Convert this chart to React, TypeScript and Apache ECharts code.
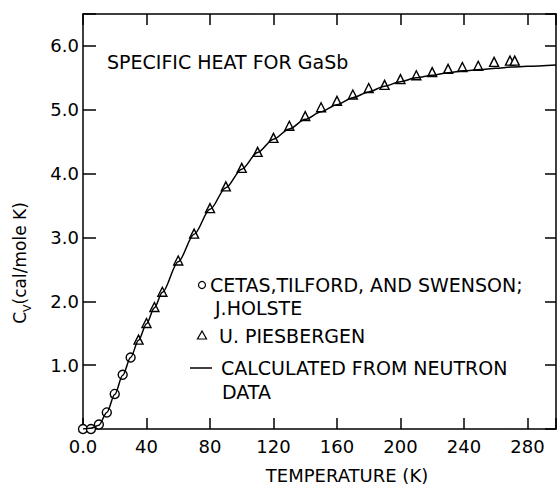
import React, { useEffect, useRef } from "react";
import * as echarts from "echarts";

// Cetas, Tilford and Swenson; J. Holste (circles)
const cetasT = [0, 5, 10, 15, 20, 25, 30];
const cetasCv = [0, 0, 0.07, 0.26, 0.55, 0.85, 1.12];

// U. Piesbergen (triangles)
const piesT = [35, 40, 45, 50, 60, 70, 80, 90, 100, 110, 120, 130, 140, 150, 160, 170, 180, 190, 200, 210, 220, 230, 239, 249, 259, 269, 272];
const piesCv = [1.4, 1.66, 1.91, 2.15, 2.64, 3.06, 3.46, 3.8, 4.09, 4.34, 4.56, 4.75, 4.9, 5.04, 5.14, 5.24, 5.34, 5.39, 5.48, 5.54, 5.59, 5.64, 5.67, 5.69, 5.75, 5.77, 5.77];

// Calculated from neutron data (curve)
const calcT = [0, 5, 10, 15, 20, 25, 30, 35, 40, 45, 50, 60, 70, 80, 90, 100, 110, 120, 130, 140, 150, 160, 170, 180, 190, 200, 210, 220, 230, 240, 250, 260, 270, 280, 298];
const calcCv = [0, 0.01, 0.06, 0.26, 0.54, 0.84, 1.12, 1.39, 1.65, 1.9, 2.14, 2.62, 3.05, 3.44, 3.78, 4.07, 4.33, 4.54, 4.7, 4.85, 4.97, 5.08, 5.19, 5.28, 5.37, 5.44, 5.5, 5.54, 5.58, 5.61, 5.63, 5.65, 5.67, 5.68, 5.7];

const xTicks = [0, 40, 80, 120, 160, 200, 240, 280];
const yTicks = [1, 2, 3, 4, 5, 6];

const chartTitle = "SPECIFIC HEAT FOR GaSb";
const xTitle = "TEMPERATURE (K)";
const legendLines = ["CETAS,TILFORD, AND SWENSON;", "J.HOLSTE", "U. PIESBERGEN", "CALCULATED FROM NEUTRON", "DATA"];

const FONT = "DejaVu Sans";

export default function App() {
  const ref = useRef<HTMLDivElement>(null);
  useEffect(() => {
    if (!ref.current) return;
    const chart = echarts.init(ref.current, undefined, { renderer: "svg" });
    const axisLine = { show: true, onZero: false, lineStyle: { color: "#000", width: 1.5 } };
    const tick = (len: number) => ({
      show: true, inside: true, length: len, lineStyle: { color: "#000", width: 1.5 },
    });
    const xFmt = (v: number) => (xTicks.includes(v) ? (v === 0 ? "0.0" : String(v)) : "");
    const yFmt = (v: number) => (yTicks.includes(v) ? v.toFixed(1) : "");
    chart.setOption({
      animation: false,
      backgroundColor: "#fff",
      grid: { left: 83, top: 14, width: 475, height: 415, containLabel: false },
      xAxis: [
        {
          type: "value", min: 0, max: 298, interval: 40, position: "bottom",
          axisLine, axisTick: tick(11), splitLine: { show: false },
          axisLabel: { formatter: xFmt, fontSize: 18, fontFamily: FONT, color: "#000", margin: 8 },
        },
        {
          type: "value", min: 0, max: 298, interval: 40, position: "top",
          axisLine, axisTick: tick(11), splitLine: { show: false }, axisLabel: { show: false },
        },
      ],
      yAxis: [
        {
          type: "value", min: 0, max: 6.5, interval: 1, position: "left",
          axisLine, axisTick: tick(13), splitLine: { show: false },
          axisLabel: { formatter: yFmt, fontSize: 18, fontFamily: FONT, color: "#000", margin: 4 },
        },
        {
          type: "value", min: 0, max: 6.5, interval: 1, position: "right",
          axisLine, axisTick: tick(11), splitLine: { show: false }, axisLabel: { show: false },
        },
      ],
      series: [
        {
          type: "line", name: "calc", data: calcT.map((t, i) => [t, calcCv[i]]),
          showSymbol: false, smooth: 0.3, smoothMonotone: "x",
          lineStyle: { color: "#000", width: 1.5 }, clip: true,
        },
        {
          type: "scatter", name: "cetas", data: cetasT.map((t, i) => [t, cetasCv[i]]),
          symbol: "circle", symbolSize: 9, clip: false,
          itemStyle: { color: "#fff", borderColor: "#000", borderWidth: 1.4, opacity: 1 },
        },
        {
          type: "scatter", name: "pies", data: piesT.map((t, i) => [t, piesCv[i]]),
          symbol: "triangle", symbolSize: 9, clip: false,
          itemStyle: { color: "#fff", borderColor: "#000", borderWidth: 1.4, opacity: 1 },
        },
      ],
      graphic: [
        { type: "text", left: 107, top: 52, style: { text: chartTitle, font: `19px '${FONT}'`, fill: "#000" } },
        { type: "text", x: 347, y: 475, style: { text: xTitle, font: `18px '${FONT}'`, fill: "#000", align: "center", verticalAlign: "middle" } },
        {
          type: "text", x: 20, y: 263, rotation: Math.PI / 2,
          style: {
            text: "{c|C}{s|V}{c|(cal/mole K)}", align: "center", verticalAlign: "middle", fill: "#000",
            rich: {
              c: { fontSize: 17, fontFamily: FONT, lineHeight: 26, verticalAlign: "middle" },
              s: { fontSize: 11, fontFamily: FONT, lineHeight: 26, verticalAlign: "bottom" },
            },
          },
        },
        { type: "circle", shape: { cx: 202, cy: 285, r: 3.5 }, style: { fill: "#fff", stroke: "#000", lineWidth: 1.2 } },
        { type: "polygon", shape: { points: [[197.5, 339], [206.5, 339], [202, 331]] }, style: { fill: "#fff", stroke: "#000", lineWidth: 1.2 } },
        { type: "line", shape: { x1: 190, y1: 368, x2: 212, y2: 368 }, style: { stroke: "#000", lineWidth: 1.5 } },
        { type: "text", x: 210, y: 285, style: { text: legendLines[0], font: `19px '${FONT}'`, fill: "#000", verticalAlign: "middle" } },
        { type: "text", x: 215, y: 308, style: { text: legendLines[1], font: `19px '${FONT}'`, fill: "#000", verticalAlign: "middle" } },
        { type: "text", x: 219, y: 336, style: { text: legendLines[2], font: `19px '${FONT}'`, fill: "#000", verticalAlign: "middle" } },
        { type: "text", x: 221, y: 368, style: { text: legendLines[3], font: `19px '${FONT}'`, fill: "#000", verticalAlign: "middle" } },
        { type: "text", x: 222, y: 392, style: { text: legendLines[4], font: `19px '${FONT}'`, fill: "#000", verticalAlign: "middle" } },
      ],
    });
    return () => chart.dispose();
  }, []);
  return <div ref={ref} style={{ width: 559, height: 487, position: "absolute", left: 0, top: 0 }} />;
}
